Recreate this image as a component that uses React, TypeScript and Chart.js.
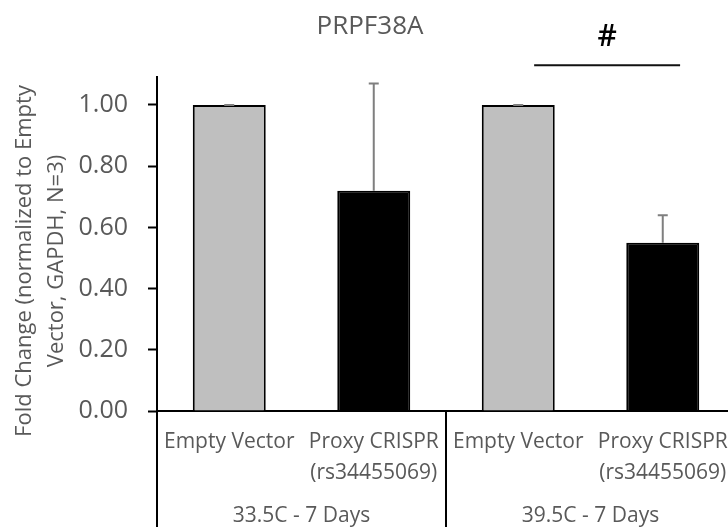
import React, { useEffect, useRef } from "react";
import { Chart, registerables } from "chart.js";

Chart.register(...registerables);

const chartTitle = "PRPF38A";
const yTitleLines = ["Fold Change (normalized to Empty", "Vector, GAPDH, N=3)"];
const categories: string[][] = [
  ["Empty Vector"],
  ["Proxy CRISPR", "(rs34455069)"],
  ["Empty Vector"],
  ["Proxy CRISPR", "(rs34455069)"],
];
const groups = ["33.5C - 7 Days", "39.5C - 7 Days"];
const groupSize = 2;
const values = [1.0, 0.72, 1.0, 0.55];
const errorsPlus = [0.0, 0.35, 0.0, 0.09];
const barColors = ["#bfbfbf", "#000000", "#bfbfbf", "#000000"];
const yTickStep = 0.2;
const yTickMax = 1.0;
const yAxisMax = 1.0915;
// significance bracket in data space: from/to as category positions, y as value
const sigFrom = 2.11;
const sigTo = 3.12;
const sigLineValue = 1.13;
const sigLabelValue = 1.22;
const sigLabel = "#";

const FONT = "'Open Sans', 'Noto Sans', sans-serif";
const TEXT = "#595959";

export default function App() {
  const ref = useRef<HTMLCanvasElement | null>(null);

  useEffect(() => {
    document.body.style.overflow = "hidden";
    const canvas = ref.current!;
    const W = 740;
    const H = 527;
    canvas.width = W;
    canvas.height = H;

    const overlay = {
      id: "overlay",
      afterDatasetsDraw(chart: any) {
        const ctx = chart.ctx;
        const y = chart.scales.y;
        const meta = chart.getDatasetMeta(0);
        ctx.save();
        // error bars
        ctx.strokeStyle = "#7f7f7f";
        ctx.lineWidth = 2;
        values.forEach((v, i) => {
          const px = meta.data[i].x;
          const top = y.getPixelForValue(v + errorsPlus[i]);
          const base = y.getPixelForValue(v);
          ctx.beginPath();
          ctx.moveTo(px, base);
          ctx.lineTo(px, top);
          ctx.moveTo(px - 5, top);
          ctx.lineTo(px + 5, top);
          ctx.stroke();
        });
        ctx.restore();
      },
      afterDraw(chart: any) {
        const ctx = chart.ctx;
        const x = chart.scales.x;
        const y = chart.scales.y;
        const area = chart.chartArea;
        ctx.save();
        // title
        ctx.fillStyle = TEXT;
        ctx.font = `26px ${FONT}`;
        ctx.textAlign = "center";
        ctx.textBaseline = "middle";
        ctx.fillText(chartTitle, chart.width / 2, 27);

        // y title
        ctx.save();
        ctx.translate(0, (area.top + area.bottom) / 2 + 17);
        ctx.rotate(-Math.PI / 2);
        ctx.font = `22px ${FONT}`;
        yTitleLines.forEach((line, i) => {
          ctx.fillText(line, 0, 25 + i * 32);
        });
        ctx.restore();

        // category labels
        ctx.font = `21px ${FONT}`;
        categories.forEach((lines, i) => {
          const px = x.getPixelForValue(i);
          lines.forEach((line, j) => {
            ctx.fillText(line, px, area.bottom + 31 + j * 31);
          });
        });
        // group labels
        groups.forEach((g, gi) => {
          const px = x.getPixelForValue(gi * groupSize + (groupSize - 1) / 2);
          ctx.fillText(g, px, area.bottom + 105);
        });
        // separators
        ctx.strokeStyle = "#000";
        ctx.lineWidth = 2;
        for (let gi = 0; gi <= groups.length; gi++) {
          const px = Math.round(x.getPixelForValue(gi * groupSize - 0.5));
          ctx.beginPath();
          ctx.moveTo(px, area.bottom);
          ctx.lineTo(px, chart.height);
          ctx.stroke();
        }
        // significance
        ctx.strokeStyle = "#111";
        ctx.lineWidth = 2;
        const ly = y.getPixelForValue(sigLineValue);
        ctx.beginPath();
        ctx.moveTo(x.getPixelForValue(sigFrom), ly);
        ctx.lineTo(x.getPixelForValue(sigTo), ly);
        ctx.stroke();
        ctx.fillStyle = "#000";
        ctx.font = `600 30px ${FONT}`;
        ctx.fillText(
          sigLabel,
          x.getPixelForValue((sigFrom + sigTo) / 2),
          y.getPixelForValue(sigLabelValue)
        );
        ctx.restore();
      },
    };

    const chart = new Chart(canvas, {
      type: "bar",
      data: {
        labels: categories.map((c) => c.join(" ")),
        datasets: [
          {
            data: values,
            backgroundColor: barColors,
            borderColor: "#000",
            borderWidth: 2,
            barPercentage: 0.505,
            categoryPercentage: 1,
          },
        ],
      },
      options: {
        responsive: false,
        animation: false,
        layout: { padding: { top: 77, right: 5, left: 0, bottom: 0 } },
        plugins: {
          legend: { display: false },
          tooltip: { enabled: false },
          title: { display: false },
        },
        scales: {
          x: {
            type: "category",
            ticks: { display: false },
            grid: { display: false },
            border: { display: true, color: "#000", width: 2 },
            afterFit: (s: any) => {
              s.height = 116;
            },
          },
          y: {
            min: 0,
            max: yAxisMax,
            ticks: {
              stepSize: yTickStep,
              color: TEXT,
              font: { family: FONT, size: 25 },
              padding: 20,
              callback: (v: any) => Number(v).toFixed(2),
            },
            afterBuildTicks: (s: any) => {
              s.ticks = s.ticks.filter((t: any) => t.value <= yTickMax + 1e-6);
            },
            grid: {
              drawOnChartArea: false,
              tickLength: 9,
              tickWidth: 2,
              tickColor: "#000",
            },
            border: { display: true, color: "#000", width: 2 },
            afterFit: (s: any) => {
              s.width = 157;
            },
          },
        },
      },
      plugins: [overlay],
    });
    return () => chart.destroy();
  }, []);

  return (
    <div style={{ position: "fixed", left: 0, top: 0, width: 740, height: 527, background: "#fff" }}>
      <canvas ref={ref} width={740} height={527} />
    </div>
  );
}
